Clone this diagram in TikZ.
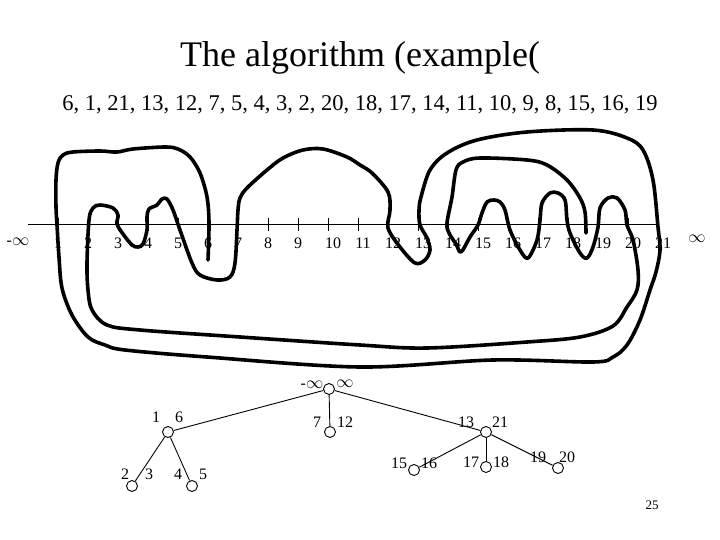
\documentclass[tikz,border=0pt]{standalone}
\usepackage{fontspec}
\setmainfont{Liberation Serif}
\usetikzlibrary{calc}
\begin{document}
\begin{tikzpicture}[x=1pt,y=-1pt,
  meander/.style={line width=3.6pt, line join=round, line cap=round},
  axline/.style={line width=0.9pt},
  axtick/.style={line width=0.9pt},
  axlbl/.style={font=\fontsize{16}{18}\selectfont, inner sep=0pt, anchor=base},
  vtx/.style={circle, draw, line width=0.9pt, minimum size=11pt, inner sep=0pt},
  tlbl/.style={font=\fontsize{16}{18}\selectfont, inner sep=0pt, anchor=base},
  tedge/.style={line width=0.9pt}]
\useasboundingbox (0,0) rectangle (720,540);

% title and sequence
\node[anchor=base, inner sep=0pt, font=\fontsize{36}{40}\selectfont] (title) at (360,67) {The algorithm (example(};
\node[anchor=base, inner sep=0pt, font=\fontsize{22.5}{26}\selectfont] (seq) at (360,111) {6, 1, 21, 13, 12, 7, 5, 4, 3, 2, 20, 18, 17, 14, 11, 10, 9, 8, 15, 16, 19};

% axis
\coordinate (axL) at (28,224);
\coordinate (axR) at (658,224);
\draw[axline] (axL) -- (axR);
\foreach \k in {1,...,21} {
  \coordinate (t\k) at ({28+30*\k},224);
  \draw[axtick] ($(t\k)+(0,-6)$) -- ($(t\k)+(0,7)$);
}
\foreach \k in {1,...,9} {
  \node[axlbl] (l\k) at ({28+30*\k},248) {\k};
}
\foreach \k in {10,...,21} {
  \node[axlbl] (l\k) at ({33+30*\k},248) {\k};
}
\node[axlbl] (minf) at (18,245) {-$\infty$};
\node[axlbl] (pinf) at (697,243) {$\infty$};

% meander curve
\draw[meander] plot[smooth, tension=0.55] coordinates {
 (208,260) (209,223) (207,197) (200,173) (190,157) (178,149) (165,147) (133,149)
 (117,152) (100,151) (73,152) (63,155) (58,163) (56,180) (56,207) (57,225) (59,257)
 (62,288) (72,315) (88,337) (105,345) (125,350) (207,357) (360,367) (493,360)
 (593,362) (613,357) (627,345) (640,320) (650,290) (656,272) (660,250) (658,227)
 (653,180) (643,150) (627,138) (593,130) (527,132) (477,140) (447,153) (430,170)
 (421,197) (419,210) (420,225) (427,238) (430,250) (425,260) (415,263) (400,247)
 (388,228) (390,210) (388,192) (372,173) (360,165) (347,157) (323,149) (303,150)
 (283,158) (267,170) (247,188) (240,198) (238,210) (237,230) (235,263) (230,277)
 (217,280) (200,275) (192,263) (180,230) (173,210) (167,199) (162,199) (157,205)
 (149,209) (147,217) (147,230) (143,244) (138,247) (132,245) (123,234) (117,224)
 (118,215) (113,208) (100,205) (93,208) (89,220) (87,263) (88,290) (92,310)
 (107,325) (140,330) (240,337) (360,345) (427,348) (527,342) (580,337) (613,326)
 (627,307) (637,290) (638,270) (633,240) (627,225) (625,210) (617,198) (608,198)
 (600,208) (598,227) (593,247) (587,258) (580,253) (570,233) (567,220) (565,200)
 (558,193) (550,193) (542,203) (540,220) (537,240) (528,258) (520,250) (510,230)
 (505,210) (500,202) (494,200) (487,202) (482,213) (478,225) (470,237) (461,252)
 (456,244) (449,233) (447,223) (452,197) (456,170) (463,162) (480,158) (527,160)
 (547,165) (567,180) (580,198) (585,212) (586,233)};

% tree
\node[vtx] (r) at (329,389) {};
\node[vtx] (a) at (168,432) {};
\node[vtx] (b) at (132,486) {};
\node[vtx] (c) at (192,486) {};
\node[vtx] (d) at (330,432) {};
\node[vtx] (e) at (486,432) {};
\node[vtx] (f) at (414,470) {};
\node[vtx] (g) at (486,467) {};
\node[vtx] (h) at (558,468) {};

\draw[tedge] (r) -- (a);
\draw[tedge] (r) -- (d);
\draw[tedge] (r) -- (e);
\draw[tedge] (a) -- (b);
\draw[tedge] (a) -- (c);
\draw[tedge] (e) -- (f);
\draw[tedge] (e) -- (g);
\draw[tedge] (e) -- (h);

\node[tlbl] (rl) at (312,388) {-$\infty$};
\node[tlbl] (rr) at (345,387) {$\infty$};
\node[tlbl] (al) at (156,422) {1};
\node[tlbl] (ar) at (179,422) {6};
\node[tlbl] (bl) at (125,479) {2};
\node[tlbl] (br) at (149,479) {3};
\node[tlbl] (cl) at (178,479) {4};
\node[tlbl] (cr) at (203,479) {5};
\node[tlbl] (dl) at (317,427) {7};
\node[tlbl] (dr) at (345,427) {12};
\node[tlbl] (el) at (466,427) {13};
\node[tlbl] (er) at (500,427) {21};
\node[tlbl] (fl) at (399,468) {15};
\node[tlbl] (fr) at (429,468) {16};
\node[tlbl] (gl) at (471,467) {17};
\node[tlbl] (gr) at (501,467) {18};
\node[tlbl] (hl) at (538,462) {19};
\node[tlbl] (hr) at (567,462) {20};

\node[anchor=base, inner sep=0pt, font=\fontsize{13}{15}\selectfont] (pg) at (652,509) {25};
\end{tikzpicture}
\end{document}
